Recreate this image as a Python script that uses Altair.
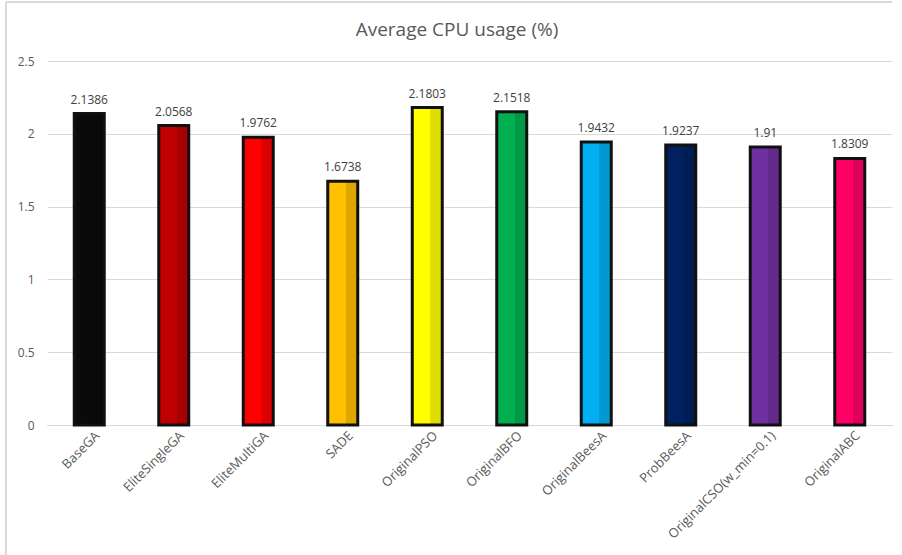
import altair as alt
import pandas as pd

categories = ["BaseGA", "EliteSingleGA", "EliteMultiGA", "SADE", "OriginalPSO",
              "OriginalBFO", "OriginalBeesA", "ProbBeesA", "OriginalCSO(w_min=0.1)", "OriginalABC"]
values = [2.1386, 2.0568, 1.9762, 1.6738, 2.1803, 2.1518, 1.9432, 1.9237, 1.91, 1.8309]
labels = ["2.1386", "2.0568", "1.9762", "1.6738", "2.1803", "2.1518", "1.9432", "1.9237", "1.91", "1.8309"]
colors = ["#0a0a0a", "#C00000", "#FF0000", "#FFC000", "#FFFF00",
          "#00B050", "#00B0F0", "#002060", "#7030A0", "#FF0066"]
chart_title = ["Average CPU usage (%)"]

df = pd.DataFrame({"cat": categories, "val": values, "lab": labels, "col": colors})
tdf = pd.DataFrame({"t": chart_title})

FONT = "Open Sans"

x = alt.X("cat:N", sort=categories, title=None,
          scale=alt.Scale(paddingInner=0.645, paddingOuter=0.3225),
          axis=alt.Axis(labelAngle=-45, labelAlign="right", labelBaseline="top",
                        labelFontSize=13, labelColor="#595959", labelFont=FONT,
                        labelPadding=4, ticks=False, domainColor="#d9d9d9",
                        domainWidth=1, labelOffset=4, labelLimit=300))
y = alt.Y("val:Q", title=None,
          scale=alt.Scale(domain=[0, 2.5], nice=False),
          axis=alt.Axis(values=[0, 0.5, 1, 1.5, 2, 2.5], format="~g",
                        labelFontSize=12, labelColor="#595959", labelFont=FONT,
                        labelPadding=13, ticks=False, domain=False,
                        gridColor="#d9d9d9", gridWidth=1))

bars = alt.Chart(df).mark_bar(stroke="#111111", strokeWidth=3).encode(
    x=x, y=y, color=alt.Color("col:N", scale=None))

shade = alt.Chart(df).mark_bar(
    fill=alt.Gradient(gradient="linear", x1=0, x2=1, y1=0, y2=0,
                      stops=[alt.GradientStop(color="rgba(0,0,0,0)", offset=0),
                             alt.GradientStop(color="rgba(0,0,0,0)", offset=0.6),
                             alt.GradientStop(color="rgba(0,0,0,0.13)", offset=0.61),
                             alt.GradientStop(color="rgba(0,0,0,0.13)", offset=1)]),
    strokeWidth=0).encode(x=alt.X("cat:N", sort=categories), y="val:Q")

text = alt.Chart(df).mark_text(dy=-14, fontSize=12, color="#404040", font=FONT).encode(
    x=alt.X("cat:N", sort=categories), y="val:Q", text="lab:N")

title = alt.Chart(tdf).mark_text(fontSize=19, color="#595959", font=FONT).encode(
    x=alt.value(410), y=alt.value(-31), text="t:N")

border_left = alt.Chart(df).mark_rule(color="#d9d9d9", strokeWidth=1, clip=False).encode(
    x=alt.value(-41), y=alt.value(-59), y2=alt.value(494))
border_top = alt.Chart(df).mark_rule(color="#d9d9d9", strokeWidth=1, clip=False).encode(
    x=alt.value(-41), x2=alt.value(845), y=alt.value(-59))

chart = alt.layer(border_left, border_top, bars, shade, text, title).properties(
    width=845, height=364,
    autosize="none",
    padding={"left": 47, "top": 61, "right": 10, "bottom": 130},
).configure_view(stroke=None).configure_axisX(grid=False)

chart.save("out.html", embed_options={"renderer": "svg", "actions": False})
